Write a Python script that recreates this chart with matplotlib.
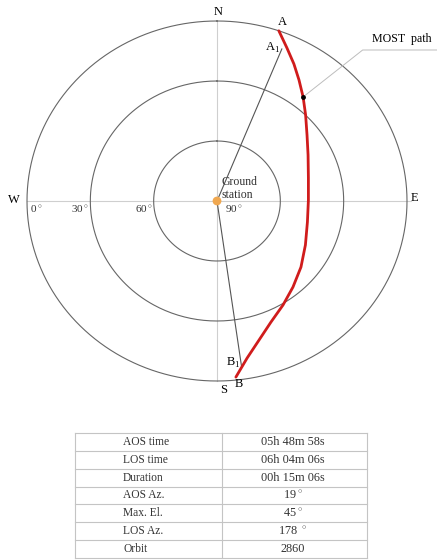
import numpy as np
import matplotlib
matplotlib.use("Agg")
import matplotlib.pyplot as plt

plt.rcParams["font.family"] = ["Liberation Serif", "DejaVu Serif"]
plt.rcParams["mathtext.fontset"] = "custom"
plt.rcParams["mathtext.rm"] = "Liberation Serif"

# ── Datos ──────────────────────────────────────────────────────────────────
# elevación de los círculos (0° horizonte, 90° cénit)
elev_rings = [0, 30, 60]
elev_labels = ["0", "30", "60", "90"]

# trayectoria del satélite (azimut, elevación) en grados
path_az = [19, 23.4, 28.0, 32.7, 38.1, 44.3, 52.3, 61.9, 75.1, 89.3,
           103.8, 117.7, 129.7, 140.1, 149.0, 157.1, 164.0, 169.7, 174.2]
path_el = [0, 6.6, 12.4, 18.1, 23.9, 29.9, 36.1, 41.1, 45.2, 46.7,
           45.9, 42.7, 38.3, 33.9, 29.3, 24.3, 17.7, 10.2, 1.5]

# rectas desde la estación hacia A1 y B1
a1_az, a1_el = 22, 8
b1_az, b1_el = 172, 6

table_keys = ["AOS time", "LOS time", "Duration", "AOS Az.", "Max. El.", "LOS Az.", "Orbit"]
table_vals = ["05h 48m 58s", "06h 04m 06s", "00h 15m 06s",
              r"19$^\circ$", r"45$^\circ$", r"178 $^\circ$", "2860"]

RING = "#666666"
AXIS = "#cfcfcf"
PATH = "#d01c1c"
GRID_T = "#c4c4c4"
TXT = "#333333"


def to_xy(az, el):
    az = np.radians(np.asarray(az, dtype=float))
    rho = 90 - np.asarray(el, dtype=float)
    return rho * np.sin(az), rho * np.cos(az)


W, H = 437, 560
fig = plt.figure(figsize=(W / 100, H / 100), dpi=100, facecolor="white")

# centro del diagrama en (217, 201) px; radio 190 px en x, 180 px en y
cx, cy = 217, 201
ax = fig.add_axes([0, 0, 1, 1])
ax.set_xlim(-cx * 90 / 190, (W - cx) * 90 / 190)
ax.set_ylim(-(H - cy) * 90 / 180, cy * 90 / 180)
ax.set_axis_off()

t = np.linspace(0, 360, 361)
for el in elev_rings:
    x, y = to_xy(t, np.full_like(t, el))
    ax.plot(x, y, color=RING, lw=0.8, zorder=2)

# ejes N-S y W-E
ax.plot([-90, 92], [0, 0], color=AXIS, lw=0.8, zorder=1)
ax.plot([0, 0], [90, -90], color=AXIS, lw=0.8, zorder=1)

# líneas hacia A1 y B1
for az, el in [(a1_az, a1_el), (b1_az, b1_el)]:
    x, y = to_xy([az, az], [90, el])
    ax.plot(x, y, color="#555555", lw=0.8, zorder=3)

px, py = to_xy(path_az, path_el)
ax.plot(px, py, color=PATH, lw=2.0, zorder=4,
        solid_capstyle="round", solid_joinstyle="round")

# estación terrena
ax.scatter([0], [0], s=40, color="#f0a850", edgecolors="none", zorder=5)

# etiquetas de elevación
for el, lab in zip(elev_rings + [90], elev_labels):
    x, _ = to_xy(270, el)
    if el in (30, 60):
        ax.text(x - 0.4, -1.5, lab + r"$^\circ$", fontsize=8,
                ha="right", va="top", color=TXT)
    else:
        ax.text(x + 1.5 if el < 90 else 3.8, -1.5, lab + r"$^\circ$", fontsize=8,
                ha="left", va="top", color=TXT)

ax.text(2.2, 9.5, "Ground", fontsize=8.5, ha="left", va="center", color=TXT)
ax.text(2.2, 3.2, "station", fontsize=8.5, ha="left", va="center", color=TXT)

ax.text(0.5, 94.5, "N", fontsize=9, ha="center", va="center")
ax.text(3.2, -94.5, "S", fontsize=9, ha="center", va="center")
ax.text(-96, 0.5, "W", fontsize=9, ha="center", va="center")
ax.text(93.5, 1.5, "E", fontsize=9, ha="center", va="center")

ax.text(31, 89.5, "A", fontsize=9, ha="center", va="center")
ax.text(26.5, 76.5, r"A$_\mathregular{1}$", fontsize=9, ha="center", va="center")
ax.text(7.5, -81, r"B$_\mathregular{1}$", fontsize=9, ha="center", va="center")
ax.text(10.5, -91.5, "B", fontsize=9, ha="center", va="center")

# leyenda de la trayectoria con línea guía
lx, ly = px[4], py[4]
ax.plot([lx, 69, 104], [ly, 75.5, 75.5], color="#bdbdbd", lw=0.7, zorder=3)
ax.scatter([lx], [ly], s=6, color="black", zorder=6)
ax.text(73.5, 81, "MOST  path", fontsize=8.6, ha="left", va="center")

# ── Tabla ─────────────────────────────────────────────────────────────────
tx0, tx1, ty0, ty1 = 75, 367, 433, 558
tax = fig.add_axes([tx0 / W, 1 - ty1 / H, (tx1 - tx0) / W, (ty1 - ty0) / H])
n = len(table_keys)
tax.set_xlim(0, 1)
tax.set_ylim(n, 0)
tax.set_axis_off()
for i in range(n + 1):
    tax.plot([0, 1], [i, i], color=GRID_T, lw=0.8, clip_on=False)
for xv in [0, 0.503, 1]:
    tax.plot([xv, xv], [0, n], color=GRID_T, lw=0.8, clip_on=False)
for i, (k, v) in enumerate(zip(table_keys, table_vals)):
    tax.text(0.165, i + 0.5, k, fontsize=8.3, ha="left", va="center", color=TXT)
    tax.text(0.745, i + 0.5, v, fontsize=8.8, ha="center", va="center", color=TXT)

fig.savefig("out.png", dpi=100, facecolor="white")
